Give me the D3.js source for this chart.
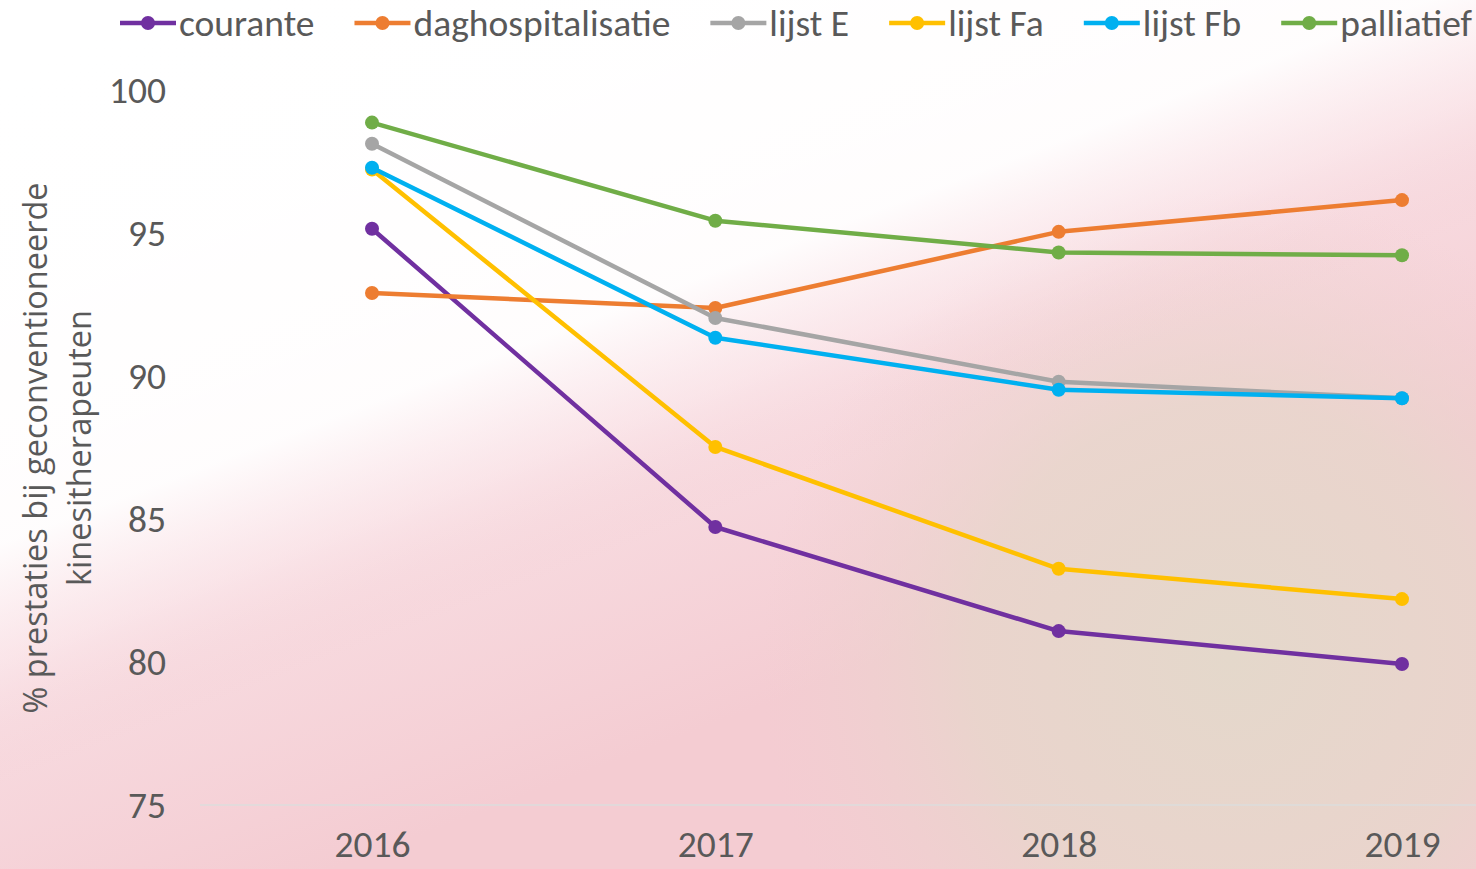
<!DOCTYPE html>
<html>
<head>
<meta charset="utf-8">
<script src="https://cdn.jsdelivr.net/npm/d3@7"></script>
<style>
  html, body { margin: 0; padding: 0; overflow: hidden; background: #fff; }
  svg { display: block; }
</style>
</head>
<body>
<svg id="chart" width="1476" height="869"></svg>
<script>
const years = ["2016", "2017", "2018", "2019"];
const seriesNames = ["courante", "daghospitalisatie", "lijst E", "lijst Fa", "lijst Fb", "palliatief"];
const courante = [95.15, 84.72, 81.08, 79.93];
const daghospitalisatie = [92.9, 92.38, 95.04, 96.15];
const lijstE = [98.12, 92.03, 89.8, 89.22];
const lijstFa = [97.22, 87.52, 83.26, 82.2];
const lijstFb = [97.28, 91.34, 89.52, 89.22];
const palliatief = [98.86, 95.43, 94.32, 94.22];
const yTicks = [75, 80, 85, 90, 95, 100];
const colors = ["#7030a0", "#ed7d31", "#a5a5a5", "#ffc000", "#00b0f0", "#70ad47"];
const yTitle = ["% prestaties bij geconventioneerde", "kinesitherapeuten"];

const seriesValues = [courante, daghospitalisatie, lijstE, lijstFa, lijstFb, palliatief];
const series = seriesNames.map((name, i) => ({ name, color: colors[i], values: seriesValues[i] }));

const W = 1476, H = 869;
const svg = d3.select("#chart");
const defs = svg.append("defs");

// Background gradients
const g1 = defs.append("linearGradient").attr("id", "bgPink")
  .attr("gradientUnits", "userSpaceOnUse")
  .attr("x1", 0).attr("y1", 0).attr("x2", 330).attr("y2", 870);
g1.append("stop").attr("offset", 0).attr("stop-color", "#ffffff");
g1.append("stop").attr("offset", 0.4).attr("stop-color", "#fdf3f5");
g1.append("stop").attr("offset", 0.68).attr("stop-color", "#f8dde2");
g1.append("stop").attr("offset", 1).attr("stop-color", "#f4ccd2");

const g2 = defs.append("linearGradient").attr("id", "bgDiag")
  .attr("gradientUnits", "userSpaceOnUse")
  .attr("x1", 560).attr("y1", -150).attr("x2", 960).attr("y2", 900);
g2.append("stop").attr("offset", 0).attr("stop-color", "#ffffff").attr("stop-opacity", 1);
g2.append("stop").attr("offset", 0.4).attr("stop-color", "#ffffff").attr("stop-opacity", 0.9);
g2.append("stop").attr("offset", 0.5).attr("stop-color", "#fcecef").attr("stop-opacity", 0.45);
g2.append("stop").attr("offset", 0.6).attr("stop-color", "#f4ccd2").attr("stop-opacity", 0);
g2.append("stop").attr("offset", 1).attr("stop-color", "#f4ccd2").attr("stop-opacity", 0);

const g3 = defs.append("radialGradient").attr("id", "bgBeige")
  .attr("gradientUnits", "userSpaceOnUse")
  .attr("cx", 1230).attr("cy", 660).attr("r", 470);
g3.append("stop").attr("offset", 0).attr("stop-color", "#e4d8cb").attr("stop-opacity", 1);
g3.append("stop").attr("offset", 0.55).attr("stop-color", "#e7d6cb").attr("stop-opacity", 0.8);
g3.append("stop").attr("offset", 1).attr("stop-color", "#efd0d0").attr("stop-opacity", 0);

svg.append("rect").attr("width", W).attr("height", H).attr("fill", "url(#bgPink)");
svg.append("rect").attr("width", W).attr("height", H).attr("fill", "url(#bgBeige)");
svg.append("rect").attr("width", W).attr("height", H).attr("fill", "url(#bgDiag)");

// Scales
const x = d3.scalePoint().domain(years).range([372, 1402]);
const y = d3.scaleLinear().domain([75, 100]).range([805, 90]);

const textColor = "#595959";
const tickFont = "Carlito, Calibri, 'Liberation Sans Narrow', sans-serif";
const fontSize = "37.5px";

// Y axis (labels only)
const yAxis = d3.axisLeft(y).tickValues(yTicks).tickSize(0).tickPadding(0);
const yg = svg.append("g").attr("transform", "translate(166,0)").call(yAxis);
yg.select(".domain").remove();
yg.selectAll("text").attr("fill", textColor).attr("dy", "0.34em")
  .style("font-family", tickFont).style("font-size", fontSize);

// X axis
const xAxis = d3.axisBottom(x).tickSize(0).tickPadding(0);
const xg = svg.append("g").attr("transform", "translate(0,834)").call(xAxis);
xg.select(".domain").remove();
xg.selectAll("text").attr("fill", textColor).attr("dy", "0.62em")
  .style("font-family", tickFont).style("font-size", fontSize);

// Bottom axis line at 75
svg.append("line").attr("x1", 200).attr("x2", W).attr("y1", y(75)).attr("y2", y(75))
  .attr("stroke", "#dcdcdc").attr("stroke-width", 1.5);

// Y title
const yt = svg.append("text")
  .attr("transform", `translate(47,${448}) rotate(-90)`)
  .attr("text-anchor", "middle")
  .attr("fill", textColor)
  .style("font-family", "'Open Sans', 'Noto Sans', sans-serif")
  .style("font-size", "32.5px");
yt.selectAll("tspan").data(yTitle).enter().append("tspan")
  .attr("x", 0).attr("dy", (d, i) => i === 0 ? 0 : 44).text(d => d);

// Lines
const line = d3.line().x((d, i) => x(years[i])).y(d => y(d));
const sg = svg.selectAll(".series").data(series).enter().append("g").attr("class", "series");
sg.append("path").attr("d", d => line(d.values)).attr("fill", "none")
  .attr("stroke", d => d.color).attr("stroke-width", 4.5).attr("stroke-linejoin", "round");
sg.selectAll("circle").data(d => d.values.map(v => ({ v, c: d.color }))).enter().append("circle")
  .attr("cx", (d, i) => x(years[i])).attr("cy", d => y(d.v)).attr("r", 7).attr("fill", d => d.c);

// Legend
const legend = svg.append("g");
let lx = 120;
const ly = 23;
series.forEach(s => {
  const item = legend.append("g");
  item.append("line").attr("x1", lx).attr("x2", lx + 56).attr("y1", ly).attr("y2", ly)
    .attr("stroke", s.color).attr("stroke-width", 4.5);
  item.append("circle").attr("cx", lx + 28).attr("cy", ly).attr("r", 7).attr("fill", s.color);
  const t = item.append("text").attr("x", lx + 59).attr("y", ly).attr("dy", "0.35em")
    .attr("fill", textColor).style("font-family", tickFont).style("font-size", fontSize).text(s.name);
  const w = t.node().getComputedTextLength();
  lx = lx + 59 + w + 40;
});
</script>
</body>
</html>
